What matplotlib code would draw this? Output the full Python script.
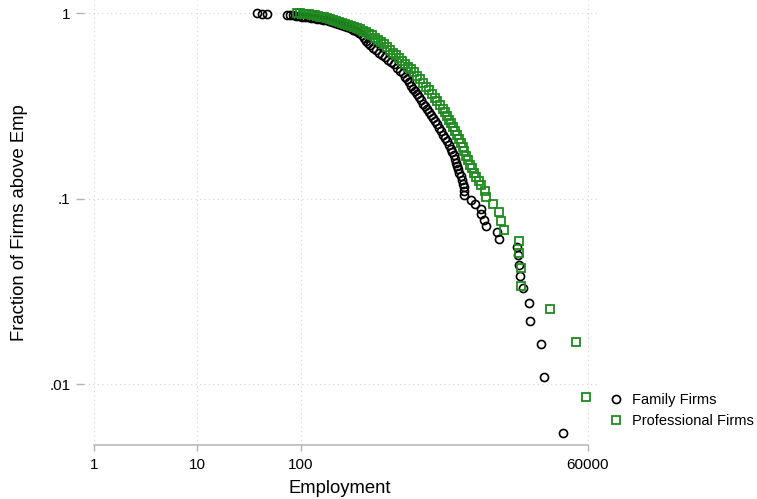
import numpy as np
import matplotlib.pyplot as plt

# Family firms: employment and fraction of firms above that employment
family_emp = [38, 42, 47, 74, 79, 84, 90, 96,
              103, 110, 118, 126, 135, 144, 154, 165, 176, 188, 201, 215, 230, 246,
              263, 281, 301, 321, 344, 367, 393,
              411, 430, 449, 470,
              502, 537, 574, 614, 656, 702, 750, 802, 857, 916, 980,
              1025, 1072, 1120, 1172, 1225, 1280, 1339, 1400, 1464, 1530, 1600, 1673,
              1749, 1829, 1912, 2000, 2091, 2186, 2286, 2390, 2499, 2613, 2732,
              2826, 2923, 3023, 3126, 3194, 3264, 3336, 3410,
              3573, 3690, 3733, 3815, 3815, 3815,
              4430, 4850, 5520, 5580, 5960, 6170, 7970, 8240, 12440, 12800, 12900,
              13400, 14130, 16360, 16740, 21380, 22700, 34920]
family_frac = [1.0, 0.9945, 0.989, 0.984, 0.978, 0.973, 0.967, 0.962,
               0.960, 0.955, 0.950, 0.946, 0.941, 0.936, 0.929, 0.923, 0.915, 0.907, 0.898, 0.886, 0.876, 0.865,
               0.854, 0.842, 0.829, 0.817, 0.803, 0.783, 0.759,
               0.736, 0.713, 0.692, 0.671,
               0.650, 0.630, 0.611, 0.596, 0.582, 0.563, 0.546, 0.530, 0.510, 0.491, 0.474,
               0.456, 0.440, 0.424, 0.408, 0.393, 0.379, 0.365, 0.352, 0.339, 0.326, 0.316, 0.305,
               0.294, 0.283, 0.273, 0.263, 0.2515, 0.241, 0.2306, 0.2208, 0.2128, 0.2037, 0.1950,
               0.1866, 0.1788, 0.1712, 0.1639, 0.1569, 0.1502, 0.1439, 0.1377,
               0.1319, 0.1263, 0.1209, 0.1158, 0.1102, 0.1048,
               0.0989, 0.0934, 0.0879, 0.0824, 0.0769, 0.0714, 0.0659, 0.0604, 0.0549, 0.0495, 0.0440,
               0.0385, 0.0330, 0.0275, 0.0220, 0.0165, 0.0110, 0.0055]

# Professional firms
prof_emp = [92, 99, 105, 113, 121, 129, 138, 147, 158, 169,
            180, 193, 206, 220, 235, 252, 269, 288, 308, 329,
            352, 376, 402, 430, 460, 491, 525, 562, 600, 642,
            686, 733, 784, 838, 897, 959, 1025, 1096, 1172, 1253,
            1339, 1432, 1531, 1637, 1750, 1871, 2000, 2091, 2236, 2390,
            2499, 2613, 2732, 2857, 2987, 3124, 3266, 3415, 3571, 3693,
            3818, 3992, 4174, 4365, 4564, 4719, 4990, 5335,
            5580, 6100, 6170, 7210, 8390, 8610, 9350, 13010, 13010, 13620,
            13710, 25780, 46030, 57930]
prof_frac = [1.0, 0.998, 0.996, 0.991, 0.986, 0.982, 0.975, 0.967, 0.959, 0.949,
             0.940, 0.929, 0.920, 0.909, 0.898, 0.886, 0.876, 0.863, 0.849, 0.839,
             0.828, 0.818, 0.805, 0.788, 0.773, 0.759, 0.736, 0.718, 0.700, 0.679,
             0.658, 0.634, 0.611, 0.596, 0.574, 0.553, 0.533, 0.513, 0.498, 0.480,
             0.459, 0.440, 0.421, 0.401, 0.386, 0.367, 0.350, 0.337, 0.320, 0.305,
             0.292, 0.280, 0.266, 0.255, 0.244, 0.232, 0.222, 0.211, 0.201, 0.190,
             0.180, 0.170, 0.161, 0.153, 0.146, 0.138, 0.131, 0.125,
             0.1186, 0.1102, 0.1017, 0.0932, 0.0847, 0.0763, 0.0678, 0.0593, 0.0508, 0.0424,
             0.0339, 0.0254, 0.0169, 0.0085]

xticks = [1, 10, 100, 60000]
xtick_labels = ['1', '10', '100', '60000']
yticks = [0.01, 0.1, 1]
ytick_labels = ['.01', '.1', '1']

plt.rcParams['font.family'] = ['Liberation Sans', 'DejaVu Sans']

fig = plt.figure(figsize=(7.57, 4.99), dpi=100)
ax = fig.add_axes([84 / 757, 54 / 499, 516 / 757, 445 / 499])

ax.plot(family_emp, family_frac, 'o', ms=5.8, mfc='none', mec='black', mew=1.2,
        label='Family Firms', clip_on=False, zorder=3)
ax.plot(prof_emp, prof_frac, 's', ms=5.3, mfc='none', mec='#1f8a1f', mew=1.3,
        label='Professional Firms', clip_on=False, zorder=4)

ax.set_xscale('log')
ax.set_yscale('log')
ax.set_xlim(0.8, 79100)
ax.set_ylim(0.00471, 1.179)
ax.set_xticks(xticks, xtick_labels)
ax.set_yticks(yticks, ytick_labels)
ax.minorticks_off()
ax.grid(True, color='#d4d4d4', linestyle=(0, (1, 3)), linewidth=0.8)
ax.set_axisbelow(True)

for side in ['top', 'right', 'left']:
    ax.spines[side].set_visible(False)
ax.spines['bottom'].set_bounds(1, 60000)
ax.spines['bottom'].set_color('#b5b5b5')
ax.spines['bottom'].set_linewidth(1.1)

ax.tick_params(axis='x', colors='#b5b5b5', labelcolor='black', length=4.5, width=1,
               labelsize=11, pad=5)
ax.tick_params(axis='y', colors='#b5b5b5', labelcolor='black', length=5.8, width=1,
               labelsize=11, pad=4)

ax.set_xlabel('Employment', fontsize=13.3)
ax.set_ylabel('Fraction of Firms above Emp', fontsize=13.3)
ax.xaxis.set_label_coords(0.496, -0.079)
ax.yaxis.set_label_coords(-0.108, 0.5)

fig.legend(loc='center left', bbox_to_anchor=(609 / 757, (499 - 410.5) / 499),
           frameon=False, borderpad=0, borderaxespad=0, handlelength=1.0,
           handletextpad=0.6, labelspacing=0.5, fontsize=10.5)

fig.savefig('out.png', dpi=100)
